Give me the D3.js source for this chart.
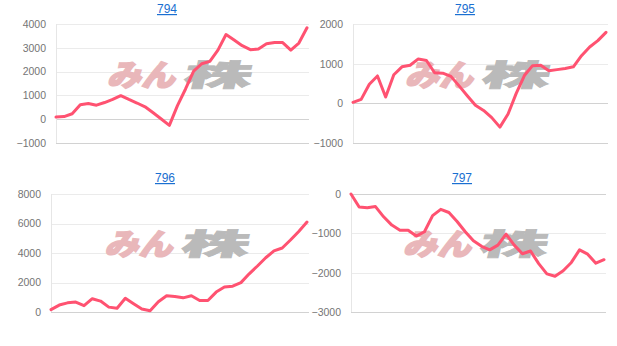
<!DOCTYPE html>
<html>
<head>
<meta charset="utf-8">
<script src="https://cdn.jsdelivr.net/npm/d3@7"></script>
<style>
  body { margin: 0; background: #fff; }
  svg { display: block; }
  .tick text { font-family: "Liberation Sans", Arial, sans-serif; font-size: 10.5px; fill: #757575; }
  .title { font-family: "Liberation Sans", Arial, sans-serif; font-size: 12px; fill: #1a6fd1; text-decoration: underline; }
</style>
</head>
<body>
<svg id="chart" width="617" height="346"></svg>
<script>
// --- data ---
var titles = ["794", "795", "796", "797"];

var values794 = [90, 110, 230, 610, 660, 590, 700, 830, 990, 830, 680, 520, 270, 10, -260, 570,
                 1270, 2020, 2330, 2430, 2900, 3560, 3330, 3090, 2920, 2950, 3170, 3220, 3220, 2900, 3200, 3840];
var values795 = [25, 100, 480, 690, 160, 720, 920, 960, 1120, 1080, 770, 760, 680, 440, 190, -50,
                 -180, -360, -600, -270, 250, 700, 950, 960, 820, 850, 880, 920, 1200, 1420, 1580, 1790];
var values796 = [160, 470, 620, 670, 430, 900, 740, 330, 260, 930, 560, 200, 90, 700, 1100, 1050,
                 960, 1100, 780, 780, 1350, 1690, 1750, 1990, 2590, 3120, 3680, 4140, 4340, 4880, 5460, 6100];
var values797 = [0, -330, -350, -320, -580, -790, -920, -920, -1070, -960, -550, -390, -470, -700, -960, -1190,
                 -1330, -1420, -1300, -1020, -1300, -1520, -1450, -1770, -2030, -2090, -1950, -1740, -1420, -1530, -1760, -1670];

var ticks794 = [-1000, 0, 1000, 2000, 3000, 4000];
var ticks795 = [-1000, 0, 1000, 2000];
var ticks796 = [0, 2000, 4000, 6000, 8000];
var ticks797 = [-3000, -2000, -1000, 0];

var series = [values794, values795, values796, values797];
var tickSets = [ticks794, ticks795, ticks796, ticks797];

// --- layout of the four small charts ---
var panels = [
  {left: 56,  right: 309, top: 24,  bottom: 143, titleX: 167, titleY: 13},
  {left: 353, right: 608, top: 24,  bottom: 143, titleX: 465, titleY: 13},
  {left: 51,  right: 309, top: 194, bottom: 312, titleX: 165, titleY: 182},
  {left: 351, right: 606, top: 194, bottom: 312, titleX: 462, titleY: 182}
];

var svg = d3.select("#chart");
svg.append("rect").attr("width", 617).attr("height", 346).attr("fill", "#fff");

panels.forEach(function(p, k) {
  var data = series[k];
  var ticks = tickSets[k];
  var g = svg.append("g");

  var y = d3.scaleLinear()
      .domain(d3.extent(ticks))
      .range([p.bottom, p.top]);

  var x = d3.scalePoint()
      .domain(d3.range(data.length))
      .range([p.left, p.right - 2]);

  // gridlines
  g.selectAll(".grid")
    .data(ticks)
    .enter().append("line")
    .attr("x1", p.left)
    .attr("x2", p.right)
    .attr("y1", function(d) { return Math.round(y(d)) + 0.5; })
    .attr("y2", function(d) { return Math.round(y(d)) + 0.5; })
    .attr("stroke", function(d, i) { return (d === 0 || i === 0) ? "#d2d2d2" : "#ebebeb"; })
    .attr("stroke-width", 1);

  g.append("line")
    .attr("x1", p.left + 0.5).attr("x2", p.left + 0.5)
    .attr("y1", p.top).attr("y2", p.bottom)
    .attr("stroke", "#e6e6e6");

  // y axis labels
  var yAxis = d3.axisLeft(y)
      .tickValues(ticks)
      .tickFormat(d3.format("d"))
      .tickSize(0)
      .tickPadding(10);

  g.append("g")
    .attr("transform", "translate(" + p.left + ",0)")
    .call(yAxis)
    .call(function(a) { a.select(".domain").remove(); });

  // watermark
  var cx = (p.left + p.right) / 2;
  var cy = (p.top + p.bottom) / 2;
  var wm = g.append("g")
      .attr("transform", "translate(" + (cx - 73) + "," + (cy - 8) + ") skewX(-14)")
      .style("font-family", "'Noto Sans CJK JP', sans-serif")
      .style("font-weight", 900)
      .style("font-size", "30px");
  wm.append("text")
    .attr("x", 0).attr("y", 10)
    .attr("textLength", 68)
    .attr("lengthAdjust", "spacingAndGlyphs")
    .attr("fill", "#e9b7ba")
    .attr("stroke", "#e9b7ba")
    .attr("stroke-width", 1.6)
    .text("みん");
  wm.append("text")
    .attr("x", 75).attr("y", 10)
    .attr("textLength", 68)
    .attr("lengthAdjust", "spacingAndGlyphs")
    .attr("fill", "#bababa")
    .attr("stroke", "#bababa")
    .attr("stroke-width", 0.8)
    .text("株");

  // the line
  var line = d3.line()
      .x(function(d, i) { return x(i); })
      .y(function(d) { return y(d); });

  g.append("path")
    .datum(data)
    .attr("fill", "none")
    .attr("stroke", "#ff5271")
    .attr("stroke-width", 3)
    .attr("stroke-linejoin", "round")
    .attr("stroke-linecap", "round")
    .attr("d", line);

  // title link
  g.append("a")
    .attr("href", "#")
    .append("text")
    .attr("class", "title")
    .attr("x", p.titleX)
    .attr("y", p.titleY)
    .attr("text-anchor", "middle")
    .text(titles[k]);
});
</script>
</body>
</html>
